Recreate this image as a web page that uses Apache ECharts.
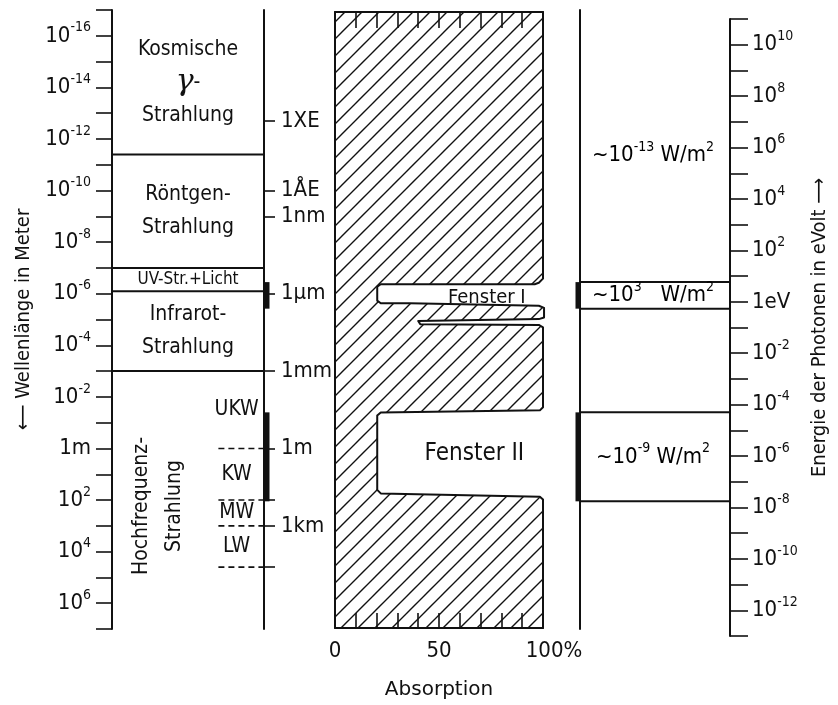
<!DOCTYPE html>
<html><head><meta charset="utf-8">
<script src="https://cdn.jsdelivr.net/npm/echarts@6/dist/echarts.min.js"></script>
<style>html,body{margin:0;padding:0;background:#fff}#c{width:838px;height:705px}</style>
</head><body><div id="c"></div>
<script>
// ---------- data (wavelength given as log10 of metres, energy as log10 of eV) ----------
const bandNames = ['Kosmische\nγ-\nStrahlung', 'Röntgen-\nStrahlung', 'UV-Str.+Licht', 'Infrarot-\nStrahlung', 'Hochfrequenz-\nStrahlung'];
const bandEdges = [-17, -11.4, -7.0, -6.1, -3.0, 7];
const radioNames = ['UKW', 'KW', 'MW', 'LW'];
const radioEdges = [-3, 0, 2, 3, 4.6];
const unitTickValues = [-12.7, -10, -9, -6, -3, 0, 3];
const unitTickLabels = ['1XE', '1ÅE', '1nm', '1μm', '1mm', '1m', '1km'];
const extraTickValues = [2, 4.6];
const windowEdges = [[-6.45, -5.42], [-1.4, 2.05]];
const windowNames = ['Fenster I', 'Fenster II'];
const fluxExponents = ['-13', '3', '-9'];
const absPct = [0, 100, 100, 98, 96, 22, 20.3, 20.3, 22, 36, 98, 100.5, 100.5, 98, 40, 41, 98, 100, 100, 98.5, 22, 20.3, 20.3, 22, 98.5, 100, 100, 0];
const absExp = [-16.92, -16.92, -6.52, -6.36, -6.30, -6.30, -6.2, -5.66, -5.56, -5.56, -5.46, -5.38, -5.0, -4.94, -4.87, -4.74, -4.71, -4.62, -1.5, -1.38, -1.30, -1.18, 1.72, 1.86, 1.99, 2.1, 7.11, 7.11];
const absLabels = {0: '0', 50: '50', 100: '100%'};

// ---------- styles ----------
const FONT = "'DejaVu Sans Condensed','Liberation Sans Narrow','Roboto Condensed',Roboto,'DejaVu Sans',sans-serif";
const INK = '#111';
const supRich = {
  b: {fontSize: 22, fontFamily: FONT, color: INK, lineHeight: 30},
  s: {fontSize: 14, fontFamily: FONT, color: INK, lineHeight: 12, verticalAlign: 'top'}
};
const bandRich = {
  t: {fontSize: 21, fontFamily: FONT, color: INK, lineHeight: 33},
  g: {fontSize: 30, fontFamily: "'DejaVu Serif',serif", fontStyle: 'italic', color: INK, lineHeight: 33},
  u: {fontSize: 17, fontFamily: FONT, color: INK, lineHeight: 18}
};

// hatch pattern
const P = 17;
const pc = document.createElement('canvas');
pc.width = P; pc.height = P;
const g = pc.getContext('2d');
g.strokeStyle = INK; g.lineWidth = 1.4;
g.beginPath();
g.moveTo(0, P); g.lineTo(P, 0);
g.moveTo(-4, 4); g.lineTo(4, -4);
g.moveTo(P - 4, P + 4); g.lineTo(P + 4, P - 4);
g.stroke();
const hatch = {image: pc, repeat: 'repeat'};

function bandText(name, i) {
  if (i === 2) return '{u|' + name + '}';
  return name.split('\n').map(l => l.startsWith('γ') ? '{g|γ}{t|' + l.slice(1) + '}' : '{t|' + l + '}').join('\n');
}

const chart = echarts.init(document.getElementById('c'), null, {renderer: 'canvas'});
const axisLine = {show: true, onZero: false, lineStyle: {color: INK, width: 2}};

chart.setOption({
  animation: false,
  backgroundColor: '#fff',
  grid: [
    {left: 112, top: 10, width: 152, height: 619},
    {left: 335, top: 12, width: 208, height: 620},
    {left: 580, top: 10, width: 150, height: 619},
    {left: 580, top: 19, width: 150, height: 617}
  ],
  xAxis: [
    {gridIndex: 0, type: 'value', min: 0, max: 100, show: false},
    {gridIndex: 1, type: 'value', min: 0, max: 100, interval: 10, position: 'bottom',
      axisLine: axisLine, splitLine: {show: false},
      axisTick: {show: true, inside: true, length: 15, lineStyle: {color: INK, width: 1.6}},
      axisLabel: {margin: 12, fontSize: 22, fontFamily: FONT, color: INK,
        formatter: v => absLabels[v] !== undefined ? (v === 100 ? '{sp| }{n|100%}' : '{n|' + absLabels[v] + '}') : '',
        rich: {n: {fontSize: 22, fontFamily: FONT, color: INK}, sp: {width: 22}}},
      name: 'Absorption', nameLocation: 'middle', nameGap: 52,
      nameTextStyle: {fontSize: 20, fontFamily: "'DejaVu Sans',sans-serif", color: INK}},
    {gridIndex: 1, type: 'value', min: 0, max: 100, interval: 10, position: 'top',
      axisLine: axisLine, splitLine: {show: false},
      axisTick: {show: true, inside: true, length: 16, lineStyle: {color: INK, width: 1.6}},
      axisLabel: {show: false}},
    {gridIndex: 2, type: 'value', min: 0, max: 100, show: false},
    {gridIndex: 3, type: 'value', min: 0, max: 100, show: false}
  ],
  yAxis: [
    {gridIndex: 0, type: 'value', min: -17, max: 7, interval: 1, inverse: true, position: 'left',
      axisLine: axisLine, splitLine: {show: false},
      axisTick: {show: true, length: 16, lineStyle: {color: INK, width: 1.6}},
      axisLabel: {margin: 21, rich: supRich,
        formatter: v => Math.abs(v % 2) === 1 ? '' : (v === 0 ? '{b|1m}' : '{b|10}{s|' + v + '}')},
      name: '⟵ Wellenlänge in Meter', nameLocation: 'middle', nameRotate: 90, nameGap: 78,
      nameTextStyle: {fontSize: 20, fontFamily: FONT, color: INK}},
    {gridIndex: 0, type: 'value', min: -17, max: 7, inverse: true, position: 'right',
      axisLine: axisLine, splitLine: {show: false},
      axisTick: {show: true, length: 11, customValues: unitTickValues.concat(extraTickValues), lineStyle: {color: INK, width: 1.6}},
      axisLabel: {margin: 17, customValues: unitTickValues, rich: supRich,
        formatter: v => { const i = unitTickValues.findIndex(t => Math.abs(t - v) < 1e-6); return i >= 0 ? '{b|' + unitTickLabels[i] + '}' : ''; }}},
    {gridIndex: 1, type: 'value', min: -16.92, max: 7.11, inverse: true, show: false},
    {gridIndex: 2, type: 'value', min: -17, max: 7, inverse: true, position: 'left',
      axisLine: axisLine, splitLine: {show: false}, axisTick: {show: false}, axisLabel: {show: false}},
    {gridIndex: 3, type: 'value', min: -13, max: 11, interval: 1, position: 'right',
      axisLine: axisLine, splitLine: {show: false},
      axisTick: {show: true, length: 18, lineStyle: {color: INK, width: 1.6}},
      axisLabel: {margin: 22, rich: supRich,
        formatter: v => Math.abs(v % 2) === 1 ? '' : (v === 0 ? '{b|1eV}' : '{b|10}{s|' + v + '}')},
      name: 'Energie der Photonen in eVolt ⟶', nameLocation: 'middle', nameRotate: 90, nameGap: 80,
      nameTextStyle: {fontSize: 20, fontFamily: FONT, color: INK}}
  ],
  series: [
    // spectral bands of the left column
    {type: 'custom', xAxisIndex: 0, yAxisIndex: 0, clip: false,
      data: bandNames.map((n, i) => [i, bandEdges[i]]),
      renderItem: (params, api) => {
        const i = params.dataIndex;
        const a = api.coord([0, bandEdges[i]]);
        const b = api.coord([100, bandEdges[i + 1]]);
        const kids = [];
        if (i > 0) kids.push({type: 'line', shape: {x1: a[0], y1: a[1], x2: b[0], y2: a[1]}, style: {stroke: INK, lineWidth: 2}});
        const rot = i === 4;
        kids.push({type: 'text', x: (a[0] + b[0]) / 2 + (rot ? -30 : 0), y: (a[1] + b[1]) / 2 + (rot ? 6 : 0),
          rotation: rot ? Math.PI / 2 : 0,
          style: {text: bandText(bandNames[i], i), rich: bandRich, align: 'center', verticalAlign: 'middle', fill: INK}});
        return {type: 'group', children: kids};
      }},
    // radio sub-bands
    {type: 'custom', xAxisIndex: 0, yAxisIndex: 0, clip: false,
      data: radioNames.map((n, i) => [i, radioEdges[i]]),
      renderItem: (params, api) => {
        const i = params.dataIndex;
        const a = api.coord([70, radioEdges[i + 1]]);
        const b = api.coord([100, radioEdges[i + 1]]);
        const m = api.coord([82, (radioEdges[i] + radioEdges[i + 1]) / 2]);
        return {type: 'group', children: [
          {type: 'line', shape: {x1: a[0], y1: a[1], x2: b[0], y2: b[1]}, style: {stroke: INK, lineWidth: 1.6, lineDash: [6, 4]}},
          {type: 'text', x: m[0], y: m[1], style: {text: radioNames[i], fontSize: 21, fontFamily: FONT, fill: INK, align: 'center', verticalAlign: 'middle'}}
        ]};
      }},
    // atmospheric windows marked on the middle axis
    {type: 'custom', xAxisIndex: 0, yAxisIndex: 0, clip: false,
      data: windowEdges.map((w, i) => [i, w[0]]),
      renderItem: (params, api) => {
        const w = windowEdges[params.dataIndex];
        const a = api.coord([100, w[0]]), b = api.coord([100, w[1]]);
        return {type: 'line', shape: {x1: a[0] + 3, y1: a[1], x2: b[0] + 3, y2: b[1]}, style: {stroke: INK, lineWidth: 5}};
      }},
    // absorption profile
    {type: 'custom', xAxisIndex: 1, yAxisIndex: 2, clip: false,
      data: [[0, 0]],
      renderItem: (params, api) => {
        const pts = absPct.map((p, i) => api.coord([p, absExp[i]]));
        return {type: 'polygon', shape: {points: pts}, style: {fill: hatch, stroke: INK, lineWidth: 2, lineJoin: 'round'}};
      }},
    // window labels
    {type: 'custom', xAxisIndex: 1, yAxisIndex: 2, clip: false,
      data: windowNames.map((n, i) => [i, windowEdges[i][0]]),
      renderItem: (params, api) => {
        const i = params.dataIndex, w = windowEdges[i];
        const c = api.coord([i === 0 ? 73 : 67, (w[0] + w[1]) / 2]);
        return {type: 'text', x: c[0], y: c[1] + (i === 0 ? 4 : 0), style: {text: windowNames[i], fontSize: i === 0 ? 20 : 24, fontFamily: FONT, fill: INK, align: 'center', verticalAlign: 'middle'}};
      }},
    // right column: radiation flux reaching the ground
    {type: 'custom', xAxisIndex: 3, yAxisIndex: 3, clip: false,
      data: fluxExponents.map((f, i) => [i, 0]),
      renderItem: (params, api) => {
        const i = params.dataIndex;
        const kids = [];
        let y0, y1;
        if (i === 0) { y0 = -17; y1 = windowEdges[0][0]; }
        else {
          const w = windowEdges[i - 1];
          y0 = w[0]; y1 = w[1];
          const a = api.coord([0, w[0]]), b = api.coord([100, w[1]]);
          kids.push({type: 'line', shape: {x1: a[0], y1: a[1], x2: b[0], y2: a[1]}, style: {stroke: INK, lineWidth: 2}});
          kids.push({type: 'line', shape: {x1: a[0], y1: b[1], x2: b[0], y2: b[1]}, style: {stroke: INK, lineWidth: 2}});
          kids.push({type: 'line', shape: {x1: a[0] - 2, y1: a[1], x2: a[0] - 2, y2: b[1]}, style: {stroke: INK, lineWidth: 5}});
        }
        const c = api.coord([50, (y0 + y1) / 2]);
        kids.push({type: 'text', x: c[0] - 2, y: c[1] + (i === 0 ? 9 : 0),
          style: {text: '{b|~10}{s|' + fluxExponents[i] + '}{b|' + (i === 1 ? '   ' : ' ') + 'W/m}{s|2}', rich: supRich, align: 'center', verticalAlign: 'middle'}});
        return {type: 'group', children: kids};
      }}
  ]
});
</script></body></html>
